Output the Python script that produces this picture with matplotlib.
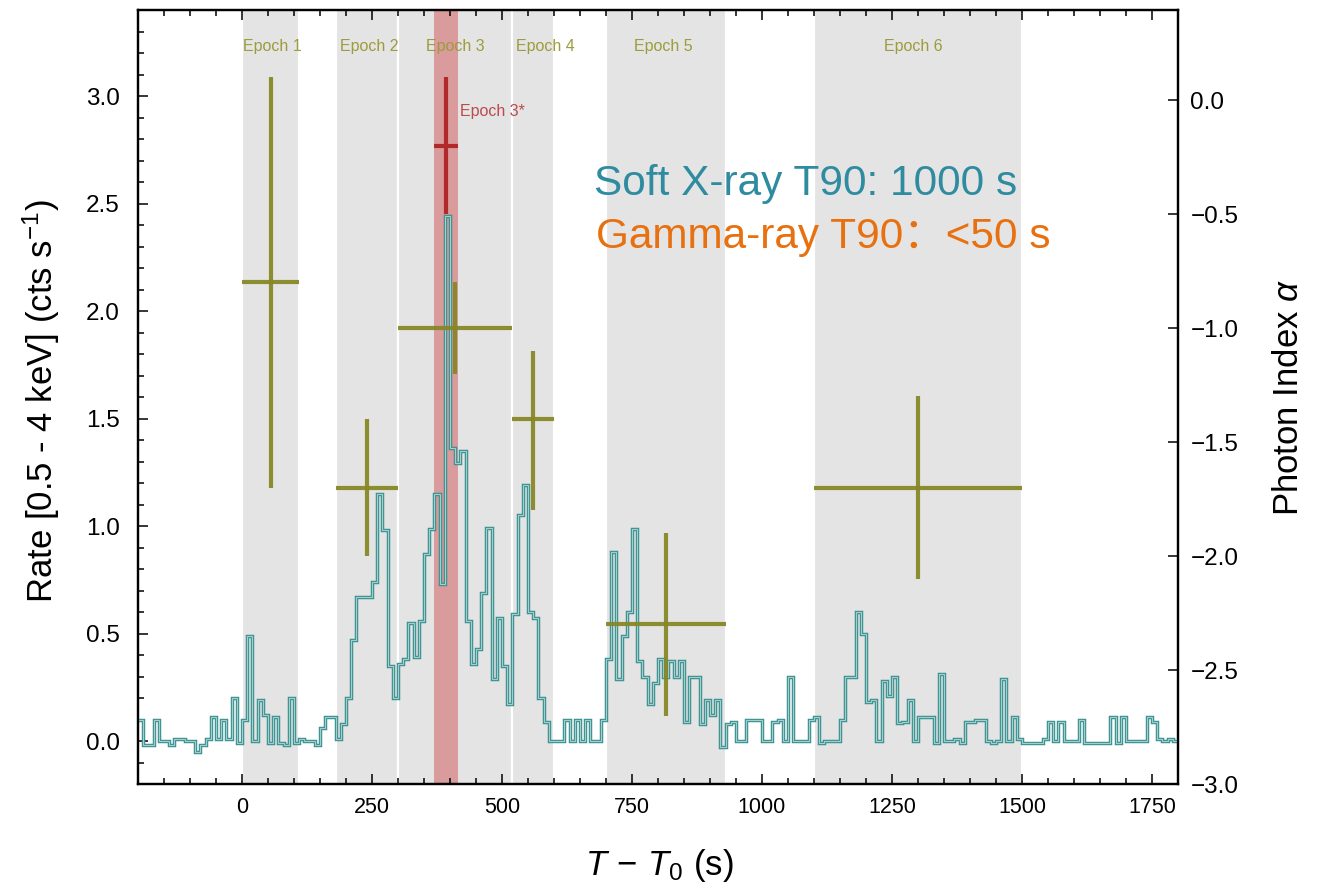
import numpy as np
import matplotlib.pyplot as plt
from matplotlib.ticker import MultipleLocator

plt.rcParams['font.family'] = ['Liberation Sans', 'DejaVu Sans']
plt.rcParams['mathtext.fontset'] = 'custom'
plt.rcParams['mathtext.rm'] = 'Liberation Sans'
plt.rcParams['mathtext.it'] = 'Liberation Sans:italic'

# soft X-ray light curve, 10 s bins starting at T0 - 200 s
t_start = -200
bin_width = 10
rate = [
    0.10, -0.02, -0.02, 0.10, 0.00, 0.00, -0.02, 0.01, 0.01, 0.00,    # -200
    0.00, -0.05, -0.02, 0.01, 0.11, 0.01, 0.10, 0.01, 0.20, -0.01,    # -100
    0.10, 0.49, 0.00, 0.19, 0.12, -0.01, 0.11, -0.01, -0.02, 0.20,    # 0
    -0.01, 0.01, 0.00, 0.00, -0.02, 0.06, 0.11, 0.11, 0.01, 0.08,     # 100
    0.20, 0.47, 0.67, 0.67, 0.67, 0.74, 1.15, 0.98, 0.35, 0.20,       # 200
    0.36, 0.38, 0.55, 0.39, 0.56, 0.87, 0.985, 1.15, 0.73, 2.44,      # 300
    1.365, 1.295, 1.35, 0.56, 0.36, 0.43, 0.69, 0.99, 0.29, 0.57,     # 400
    0.35, 0.17, 0.59, 1.05, 1.19, 0.60, 0.57, 0.20, 0.09, 0.00,       # 500
    0.00, 0.00, 0.10, 0.00, 0.10, 0.00, 0.10, 0.00, 0.00, 0.10,       # 600
    0.38, 0.88, 0.29, 0.49, 0.60, 0.985, 0.37, 0.30, 0.17, 0.27,      # 700
    0.38, 0.30, 0.37, 0.30, 0.37, 0.09, 0.30, 0.30, 0.08, 0.19,       # 800
    0.12, 0.19, -0.03, 0.08, 0.09, 0.00, 0.00, 0.10, 0.10, 0.10,      # 900
    0.00, 0.00, 0.09, 0.10, 0.00, 0.30, 0.00, 0.00, 0.00, 0.10,       # 1000
    0.11, -0.01, 0.00, 0.00, 0.00, 0.10, 0.30, 0.30, 0.60, 0.50,      # 1100
    0.18, 0.19, 0.00, 0.28, 0.21, 0.30, 0.085, 0.09, 0.19, 0.00,      # 1200
    0.11, 0.11, 0.11, -0.01, 0.31, 0.00, 0.00, 0.01, -0.01, 0.09,     # 1300
    0.09, 0.10, 0.10, 0.00, -0.01, 0.00, 0.29, 0.00, 0.11, 0.01,      # 1400
    -0.01, -0.01, -0.01, -0.01, 0.01, 0.09, 0.00, 0.09, 0.00, 0.00,   # 1500
    0.00, 0.10, -0.01, -0.01, -0.01, -0.01, -0.01, 0.11, -0.01, 0.11, # 1600
    0.00, 0.00, 0.00, 0.00, 0.11, 0.09, 0.01, 0.00, 0.01, 0.00,       # 1700
]

# epochs used for the spectral fits
epoch_names = ['Epoch 1', 'Epoch 2', 'Epoch 3', 'Epoch 4', 'Epoch 5', 'Epoch 6']
epoch_start = [0, 180, 300, 520, 700, 1100]
epoch_end = [110, 300, 520, 600, 930, 1500]
epoch_label_t = [58, 244, 410, 583, 811, 1292]

# photon index per epoch
index_t = [55, 240, 410, 560, 815, 1300]
index_val = [-0.80, -1.70, -1.00, -1.40, -2.30, -1.70]
index_err_up = [0.90, 0.30, 0.20, 0.30, 0.40, 0.40]
index_err_lo = [0.90, 0.30, 0.20, 0.40, 0.40, 0.40]

# epoch 3* (gamma-ray interval)
star_name = 'Epoch 3*'
star_start, star_end = 370, 415
star_t = 392
star_val = -0.20
star_err = 0.30

olive = '#878726'
olive_text = '#9c9c3c'
red = '#b02a2a'

fig = plt.figure(figsize=(13.21, 8.85), dpi=100)
ax = fig.add_axes([0.1045, 0.1141, 0.7872, 0.8746])
ax2 = ax.twinx()

# shaded epochs
for s, e in zip(epoch_start, epoch_end):
    ax.axvspan(s, e, facecolor='#e4e4e4', edgecolor='white', lw=1.6, zorder=0)
ax.axvspan(star_start, star_end, facecolor='#d99b9b', edgecolor='none', zorder=1)

# light curve (double stroke gives the outlined look)
edges = t_start + bin_width * np.arange(len(rate) + 1)
ax.stairs(rate, edges, baseline=None, color='#3f9191', lw=2.5, zorder=3)
ax.stairs(rate, edges, baseline=None, color='#9fd1d1', lw=0.8, zorder=4)

for name, lt in zip(epoch_names, epoch_label_t):
    ax.text(lt, 3.23, name, color=olive_text, fontsize=11.5, ha='center', va='center')
ax.text(star_end + 4, 2.93, star_name, color='#bb4b4b', fontsize=11.5, ha='left', va='center')

ax.text(676, 2.54, 'Soft X-ray T90: 1000 s', color='#2f8ba0', fontsize=30.5,
        ha='left', va='baseline')
ax.text(680, 2.295, 'Gamma-ray T90\uff1a<50 s', color='#e8700f', fontsize=30.5,
        ha='left', va='baseline', family=['Liberation Sans', 'Noto Sans CJK SC'])

# photon index error bars
xlo = [t - s for t, s in zip(index_t, epoch_start)]
xhi = [e - t for t, e in zip(index_t, epoch_end)]
ax2.errorbar(index_t, index_val, xerr=[xlo, xhi], yerr=[index_err_lo, index_err_up],
             fmt='none', ecolor=olive, elinewidth=3, capsize=0, alpha=0.95)
ax2.errorbar([star_t], [star_val], xerr=[[star_t - star_start], [star_end - star_t]],
             yerr=star_err, fmt='none', ecolor=red, elinewidth=3, capsize=0)

ax.set_xlim(-200, 1800)
ax.set_ylim(-0.2, 3.4)
ax2.set_ylim(-3.0, 0.395)

ax.xaxis.set_major_locator(MultipleLocator(250))
ax.xaxis.set_minor_locator(MultipleLocator(50))
ax.yaxis.set_major_locator(MultipleLocator(0.5))
ax.yaxis.set_minor_locator(MultipleLocator(0.1))
ax2.yaxis.set_major_locator(MultipleLocator(0.5))

ax.tick_params(which='both', direction='in', top=True, right=False, width=1.1)
ax.tick_params(which='major', length=7)
ax.tick_params(which='minor', length=4)
ax.tick_params(axis='x', labelsize=15.5, pad=9)
ax.tick_params(axis='y', labelsize=17.5, pad=13)
ax2.tick_params(which='major', direction='in', length=7, width=1.1, labelsize=17.5, pad=9)

for a in (ax, ax2):
    for sp in a.spines.values():
        sp.set_linewidth(1.6)

fig.text(41 / 1321, 1 - 401 / 885, r'Rate [0.5 - 4 keV] (cts s$^{-1}$)', rotation=90,
         ha='center', va='center', fontsize=25)
fig.text(1288 / 1321, 1 - 397 / 885, r'Photon Index $\alpha$', rotation=90,
         ha='center', va='center', fontsize=25)
fig.text(659 / 1321, 1 - 865 / 885, r'$T\,-\,T_0$ (s)', ha='center', va='center', fontsize=25)

fig.savefig('out.png', dpi=100)
